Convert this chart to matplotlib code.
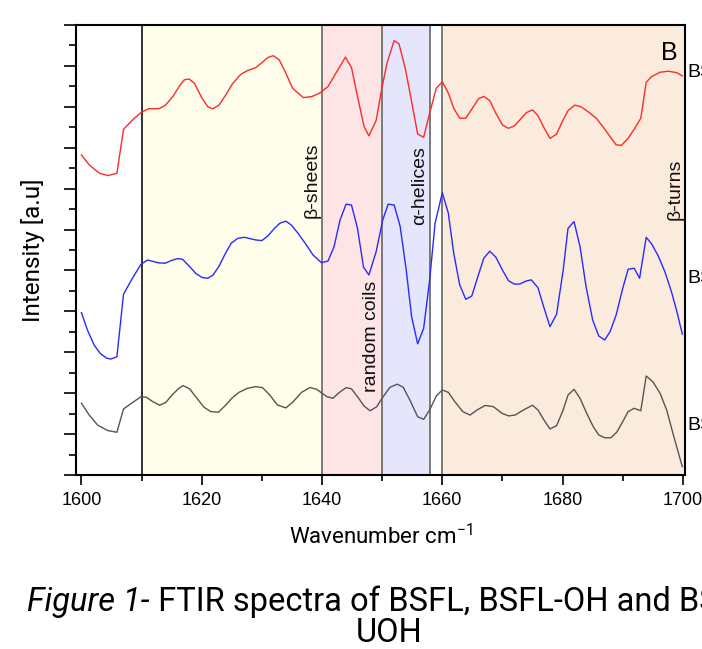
import matplotlib
matplotlib.use("Agg")
import matplotlib.pyplot as plt
from matplotlib.ticker import MultipleLocator

# spectra (wavenumber, intensity in a.u.)
wn_bsfl = [1600.0, 1601.3, 1603.0, 1604.4, 1605.9, 1607.0, 1608.5, 1609.9, 1611.2, 1612.9,
           1613.9, 1615.2, 1616.3, 1617.1, 1617.9, 1618.8, 1619.9, 1621.0, 1621.8, 1622.9,
           1624.0, 1625.1, 1626.5, 1627.6, 1629.0, 1630.1, 1631.0, 1631.9, 1632.9, 1634.0,
           1635.1, 1636.9, 1638.3, 1639.6, 1641.0, 1642.7, 1643.9, 1644.9, 1645.9, 1647.0,
           1647.8, 1649.0, 1649.9, 1650.8, 1652.0, 1652.8, 1653.9, 1654.9, 1655.9, 1656.9,
           1657.9, 1659.0, 1660.0, 1661.0, 1661.9, 1662.9, 1663.9, 1665.0, 1666.0, 1666.9,
           1667.9, 1668.9, 1670.0, 1671.0, 1672.0, 1672.9, 1674.0, 1675.0, 1675.9, 1676.9,
           1677.9, 1679.0, 1679.9, 1680.9, 1682.0, 1683.0, 1684.2, 1685.6, 1686.7, 1687.9,
           1688.9, 1689.8, 1690.9, 1692.0, 1693.0, 1693.9, 1694.8, 1696.2, 1697.6, 1699.0,
           1699.9]
int_bsfl = [15.65, 15.16, 14.75, 14.64, 14.75, 16.90, 17.36, 17.72, 17.91, 17.91,
            18.06, 18.50, 19.02, 19.32, 19.36, 19.15, 18.50, 18.01, 17.90, 18.09,
            18.58, 19.12, 19.59, 19.77, 19.92, 20.18, 20.41, 20.50, 20.29, 19.64,
            18.91, 18.45, 18.50, 18.67, 18.99, 19.84, 20.43, 19.92, 18.50, 17.03,
            16.58, 17.33, 18.83, 20.13, 21.24, 21.08, 19.80, 18.25, 16.67, 16.51,
            17.69, 18.91, 19.23, 18.67, 17.93, 17.44, 17.44, 17.93, 18.39, 18.51,
            18.30, 17.69, 17.11, 16.95, 17.07, 17.36, 17.72, 17.85, 17.57, 16.98,
            16.46, 16.66, 17.25, 17.81, 18.08, 18.01, 17.77, 17.44, 17.03, 16.54,
            16.14, 16.12, 16.46, 16.95, 17.44, 19.20, 19.48, 19.69, 19.74, 19.67,
            19.51]

wn_oh = [1600.0, 1601.0, 1602.1, 1603.1, 1604.2, 1604.9, 1605.9, 1607.0, 1608.4, 1609.9,
         1611.0, 1612.7, 1613.9, 1614.9, 1616.0, 1616.8, 1617.9, 1619.0, 1620.1, 1621.0,
         1621.9, 1622.9, 1623.9, 1624.9, 1626.0, 1627.1, 1629.0, 1630.0, 1631.0, 1632.1,
         1633.0, 1634.0, 1634.9, 1636.0, 1637.2, 1638.5, 1639.9, 1641.0, 1642.0, 1643.0,
         1644.0, 1644.9, 1645.9, 1646.9, 1647.8, 1649.0, 1650.1, 1651.0, 1652.0, 1653.0,
         1654.0, 1654.9, 1655.9, 1656.9, 1657.9, 1658.8, 1660.0, 1661.0, 1661.9, 1662.9,
         1663.9, 1664.9, 1666.0, 1666.9, 1667.9, 1668.9, 1670.0, 1671.0, 1672.0, 1672.9,
         1674.0, 1674.8, 1675.9, 1676.9, 1677.9, 1679.0, 1680.1, 1680.9, 1681.9, 1682.9,
         1683.9, 1685.0, 1686.0, 1687.0, 1687.9, 1688.9, 1690.0, 1690.9, 1691.9, 1692.8,
         1693.9, 1694.8, 1695.9, 1697.0, 1698.1, 1699.0, 1699.9]
int_oh = [7.94, 7.09, 6.36, 5.95, 5.71, 5.67, 5.78, 8.84, 9.58, 10.30,
          10.51, 10.38, 10.35, 10.48, 10.58, 10.55, 10.22, 9.86, 9.65, 9.62,
          9.78, 10.22, 10.81, 11.33, 11.57, 11.62, 11.49, 11.46, 11.69, 12.06,
          12.31, 12.41, 12.22, 11.82, 11.33, 10.76, 10.38, 10.46, 11.16, 12.47,
          13.24, 13.20, 12.06, 10.16, 9.78, 10.92, 12.47, 13.24, 13.20, 12.14,
          10.02, 7.74, 6.41, 7.17, 9.54, 12.31, 13.80, 12.80, 10.84, 9.29,
          8.59, 8.75, 9.78, 10.60, 10.94, 10.65, 10.02, 9.50, 9.33, 9.34,
          9.49, 9.54, 9.16, 8.18, 7.25, 7.86, 10.02, 12.06, 12.39, 11.16,
          9.21, 7.58, 6.80, 6.60, 7.01, 7.82, 9.13, 10.06, 10.11, 9.62,
          11.62, 11.30, 10.71, 9.94, 8.96, 7.99, 6.89]

wn_uoh = [1600.0, 1601.3, 1602.7, 1604.4, 1605.9, 1607.0, 1608.5, 1609.9, 1610.8, 1611.9,
          1613.0, 1614.0, 1615.2, 1616.2, 1616.9, 1618.0, 1619.2, 1620.4, 1621.5, 1622.8,
          1623.9, 1625.0, 1626.2, 1627.6, 1629.0, 1630.1, 1631.2, 1632.6, 1634.0, 1635.2,
          1636.6, 1638.0, 1639.1, 1639.9, 1640.8, 1641.8, 1642.9, 1644.0, 1644.9, 1645.9,
          1647.0, 1648.0, 1649.1, 1650.1, 1651.3, 1652.5, 1653.5, 1654.6, 1655.9, 1656.9,
          1657.9, 1659.0, 1660.0, 1661.0, 1662.1, 1663.4, 1664.6, 1665.8, 1667.1, 1668.5,
          1669.9, 1671.0, 1672.1, 1673.5, 1675.0, 1675.9, 1676.9, 1677.9, 1679.0, 1680.1,
          1680.9, 1681.9, 1682.9, 1684.0, 1685.1, 1686.0, 1687.0, 1688.0, 1689.0, 1690.0,
          1690.9, 1691.9, 1693.0, 1693.9, 1695.0, 1696.2, 1697.3, 1698.5, 1699.9]
int_uoh = [3.51, 2.93, 2.44, 2.17, 2.09, 3.23, 3.54, 3.83, 3.80, 3.58,
           3.41, 3.54, 3.95, 4.24, 4.37, 4.21, 3.75, 3.31, 3.10, 3.07,
           3.39, 3.75, 4.04, 4.24, 4.32, 4.27, 3.95, 3.42, 3.28, 3.58,
           4.04, 4.28, 4.19, 4.02, 3.83, 3.75, 4.04, 4.27, 4.21, 3.83,
           3.37, 3.14, 3.34, 3.80, 4.29, 4.44, 4.29, 3.67, 2.85, 2.72,
           3.18, 3.86, 4.16, 4.04, 3.58, 3.10, 2.93, 3.18, 3.40, 3.34,
           3.02, 2.89, 2.93, 3.18, 3.41, 3.18, 2.69, 2.25, 2.41, 3.18,
           3.91, 4.19, 3.75, 3.02, 2.36, 1.96, 1.82, 1.82, 2.09, 2.61,
           3.10, 3.26, 3.14, 4.84, 4.56, 4.00, 3.18, 1.87, 0.41]

# secondary structure bands (start, end) and names
band_start = [1610, 1640, 1650, 1660]
band_end = [1640, 1650, 1658, 1700.4]
band_lines = [1610, 1640, 1650, 1658, 1660]
band_names = ["β-sheets", "random coils", "α-helices", "β-turns"]
band_label_x = [1639.7, 1649.6, 1657.7, 1700.1]
band_label_y = [12.57, 4.06, 12.2, 12.45]

sample_names = ["BSFL", "BSFL-OH", "BSFL-UOH"]
sample_label_y = [19.7, 9.6, 2.4]

band_colors = ["#fefeea", "#fde5e5", "#e5e5fb", "#fbebdc"]
line_colors = ["#ff2a2a", "#2a2aff", "#555555"]

fig = plt.figure(figsize=(7.02, 6.49), dpi=100)
ax = fig.add_axes([76 / 702, 174 / 649, 609 / 702, 450 / 649])

for s, e, c in zip(band_start, band_end, band_colors):
    ax.axvspan(s, e, color=c, lw=0, zorder=0)
for xv in band_lines:
    col = "#222222" if xv == 1610 else "#707070"
    ax.axvline(xv, color=col, lw=1.3, zorder=1)

for wn, inten, c in zip([wn_bsfl, wn_oh, wn_uoh], [int_bsfl, int_oh, int_uoh], line_colors):
    ax.plot(wn, inten, color=c, lw=1.0, zorder=3)

for name, xl, yl in zip(band_names, band_label_x, band_label_y):
    ax.text(xl, yl, name, rotation=90, ha="right", va="bottom", fontsize=14,
            family="Liberation Sans", color="#111111", zorder=4)

ax.text(1699.2, 21.2, "B", ha="right", va="top", fontsize=18, family="Liberation Sans")

for name, yl in zip(sample_names, sample_label_y):
    ax.text(1700.8, yl, name, ha="left", va="center", fontsize=14,
            family="Liberation Sans", clip_on=False)

ax.set_xlim(1599.1, 1700.35)
ax.set_ylim(0, 22)
ax.xaxis.set_major_locator(MultipleLocator(20))
ax.xaxis.set_minor_locator(MultipleLocator(10))
ax.yaxis.set_major_locator(MultipleLocator(2))
ax.yaxis.set_minor_locator(MultipleLocator(1))
ax.set_yticklabels([])
ax.tick_params(axis="x", which="major", direction="out", length=7, width=1.2,
               labelsize=13, pad=5)
ax.tick_params(axis="x", which="minor", direction="out", length=4, width=1.2)
ax.tick_params(axis="y", which="major", direction="out", length=9, width=1.2)
ax.tick_params(axis="y", which="minor", direction="out", length=5, width=1.2)
for lbl in ax.get_xticklabels():
    lbl.set_family("Liberation Sans")
for sp in ax.spines.values():
    sp.set_linewidth(1.5)

ax.set_xlabel("Wavenumber cm$^{\\mathregular{-1}}$", fontsize=16, family="Roboto", labelpad=11)
ax.set_ylabel("Intensity [a.u]", fontsize=17.5, family="Roboto", labelpad=10)

# caption below the chart
r = fig.canvas.get_renderer()
t1 = fig.text(27 / 702, 1 - 602 / 649, "Figure 1-", fontsize=23.5, family="Roboto",
              style="italic", ha="left", va="center")
bb = t1.get_window_extent(renderer=r)
fig.text(bb.x1 / fig.bbox.width, 1 - 602 / 649, " FTIR spectra of BSFL, BSFL-OH and BSFL-",
         fontsize=23.5, family="Roboto", ha="left", va="center")
fig.text(389 / 702, 1 - 633 / 649, "UOH", fontsize=23.5, family="Roboto",
         ha="center", va="center")

fig.savefig("out.png", dpi=100)
